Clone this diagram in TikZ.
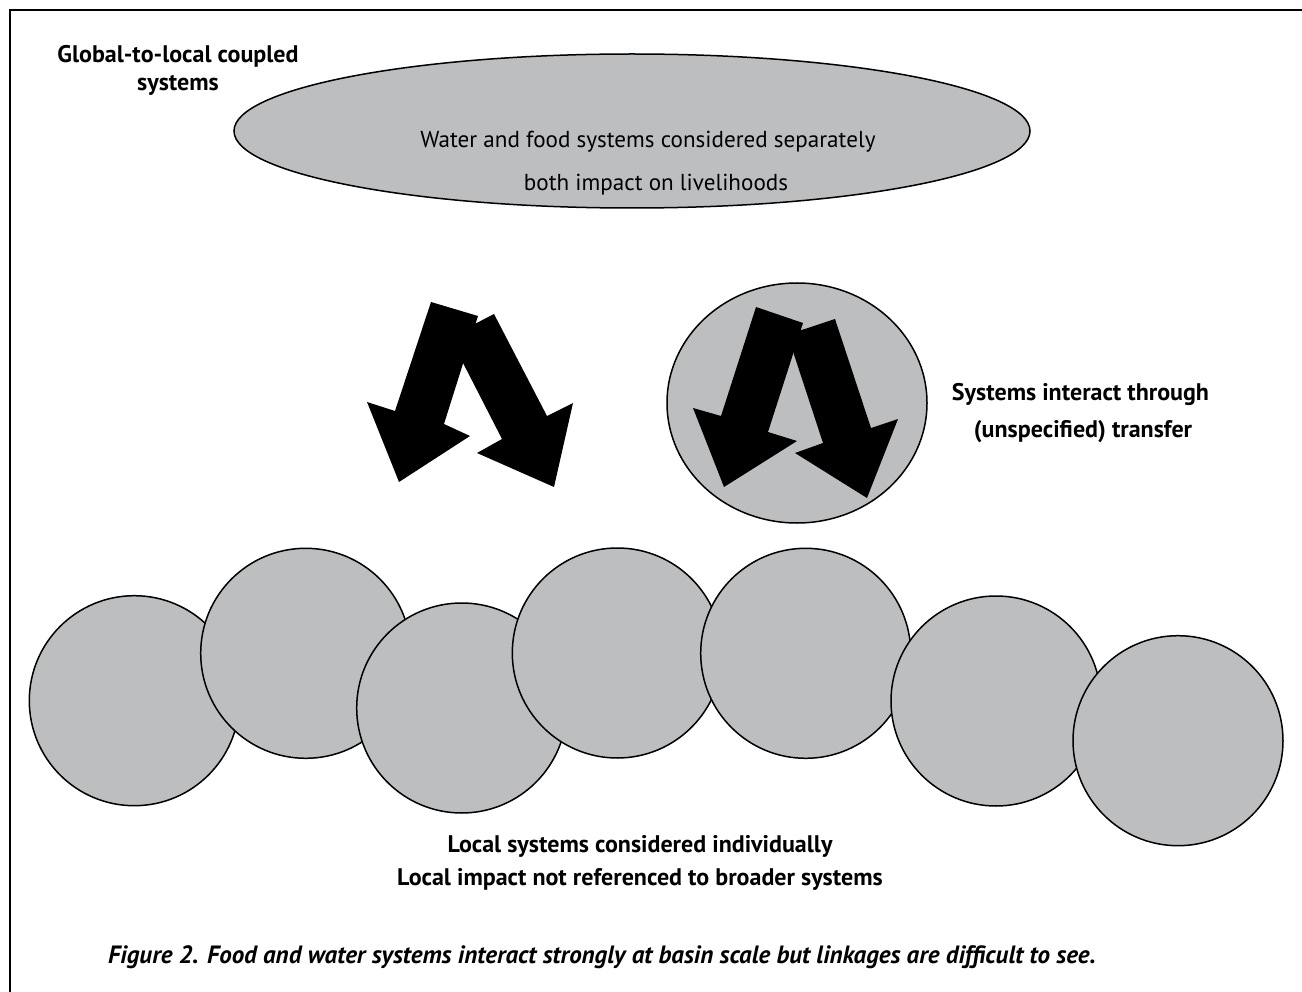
\documentclass[tikz,border=0pt]{standalone}
\usepackage{fontspec}
\setmainfont{PT Sans}
\definecolor{fillgray}{RGB}{189,190,192}
\tikzset{
  bubble/.style={draw=black,line width=1.5pt,fill=fillgray},
  bigarrow/.style={fill=black,draw=none},
  lbl/.style={anchor=base,inner sep=0pt,font=\fontsize{24}{28}\selectfont\bfseries},
  reg/.style={anchor=base,inner sep=0pt,font=\fontsize{23.1}{27}\selectfont},
  figcaption/.style={anchor=base west,inner sep=0pt,font=\fontsize{25}{29}\selectfont\bfseries\itshape}
}
\begin{document}
\begin{tikzpicture}[x=1pt,y=-1pt]
\useasboundingbox (0,0) rectangle (1302,992);
\clip (0,0) rectangle (1302,992);
\fill[white] (0,0) rectangle (1302,992);
% frame
\draw[line width=2pt] (10,1010) -- (10,10.5) -- (1320,10.5);
% top ellipse
\draw[bubble] (632,131) ellipse [x radius=398, y radius=77];
\node[reg] (e1) at (648,148) {Water and food systems considered separately};
\node[reg] (e2) at (656,191) {both impact on livelihoods};
% label top-left
\node[lbl] (g1) at (178,63) {Global-to-local coupled};
\node[lbl] (g2) at (178,91) {systems};
% left arrow pair
\fill[bigarrow] (431,302) -- (478,316) -- (444,424) -- (470,436) -- (399,482) -- (367,402) -- (395,411) -- cycle;
\fill[bigarrow] (449.7,337) -- (494,314) -- (547,416) -- (573,403) -- (554,487) -- (477,453) -- (502,439) -- cycle;
% circle with arrows
\draw[bubble] (797,403) ellipse [x radius=130, y radius=120];
\fill[bigarrow] (756,307) -- (803,323) -- (768,432) -- (797,441) -- (724,487) -- (693,408) -- (721,416) -- cycle;
\fill[bigarrow] (787.5,334.7) -- (835,319) -- (871,428) -- (898,419) -- (867,498) -- (795,453) -- (823,443) -- cycle;
\node[lbl] (s1) at (1080.5,400) {Systems interact through};
\node[lbl] (s2) at (1083,438) {(unspecified) transfer};
% local circles
\draw[bubble] (134.3,700.7) circle [radius=105];
\draw[bubble] (305.7,653.3) circle [radius=105];
\draw[bubble] (461.7,708) circle [radius=105];
\draw[bubble] (617.3,653) circle [radius=105];
\draw[bubble] (805.7,653.3) circle [radius=105];
\draw[bubble] (996,701) circle [radius=105];
\draw[bubble] (1178,740.7) circle [radius=105];
\node[lbl] (l1) at (640,852) {Local systems considered individually};
\node[lbl] (l2) at (640,885) {Local impact not referenced to broader systems};
% caption
\node[figcaption] (c) at (108,963) {Figure 2. Food and water systems interact strongly at basin scale but linkages are difficult to see.};
\end{tikzpicture}
\end{document}
